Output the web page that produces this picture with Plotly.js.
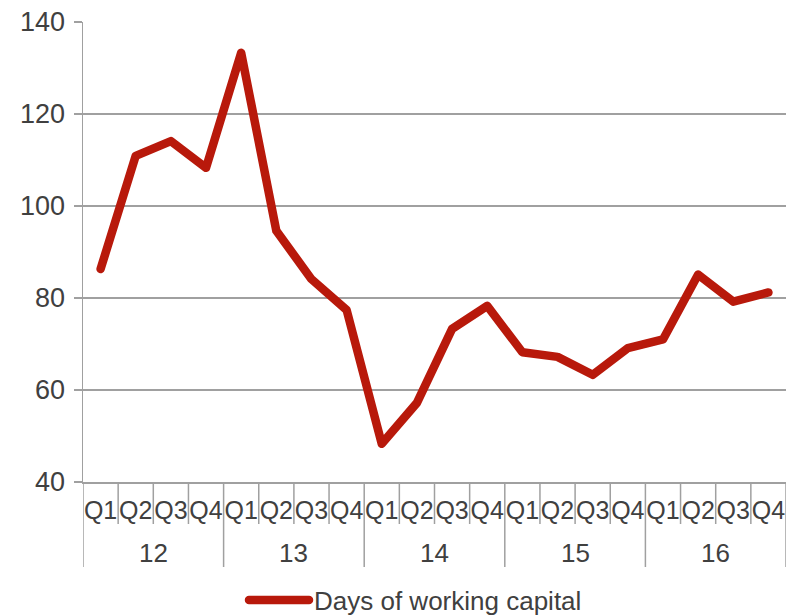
<!DOCTYPE html>
<html>
<head>
<meta charset="utf-8">
<script src="https://cdn.plot.ly/plotly-3.0.1.min.js"></script>
<style>
html,body{margin:0;padding:0;background:#fff;}
#chart{width:788px;height:616px;}
#chart .scatterlayer .js-line, #chart .legendlines path { stroke-linejoin: round !important; stroke-linecap: round !important; }
</style>
</head>
<body>
<div id="chart"></div>
<script>
const years = ["12", "13", "14", "15", "16"];
const quarters = ["Q1", "Q2", "Q3", "Q4"];
const daysOfWorkingCapital = [86.3, 110.9, 114.1, 108.3, 133.3, 94.6, 84.1, 77.4, 48.3, 57.2, 73.3, 78.3, 68.2, 67.2, 63.3, 69.1, 71.0, 85.1, 79.2, 81.2];
const seriesName = "Days of working capital";

const cats = [];
const catText = [];
years.forEach(y => quarters.forEach(q => { cats.push(y + " " + q); catText.push(q); }));

const gridCol = "#a0a0a0";
const textCol = "#404040";
const fontFam = "Liberation Sans, Arial, sans-serif";
const plotH = 616 - 22 - 134;

const shapes = [];
for (let i = 0; i <= cats.length; i++) {
  const isYear = (i % quarters.length === 0);
  shapes.push({
    type: "line", xref: "x", yref: "paper",
    x0: i - 0.5, x1: i - 0.5, y0: 0, y1: isYear ? -85 / plotH : -42 / plotH,
    line: {color: gridCol, width: 1.5}
  });
}
const annotations = years.map((y, g) => ({
  xref: "x", yref: "paper", x: g * quarters.length + (quarters.length - 1) / 2, y: -71 / plotH,
  text: y, showarrow: false, xanchor: "center", yanchor: "middle",
  font: {family: fontFam, size: 26, color: textCol}
}));

const data = [{
  type: "scatter", mode: "lines", x: cats, y: daysOfWorkingCapital, name: seriesName,
  line: {color: "#b8190b", width: 8.5}, cliponaxis: false
}];

const layout = {
  width: 788, height: 616,
  margin: {l: 83, r: 2, t: 22, b: 134, autoexpand: false},
  paper_bgcolor: "#fff", plot_bgcolor: "#fff",
  font: {family: fontFam, size: 26, color: textCol},
  showlegend: true,
  legend: {orientation: "h", xref: "container", yref: "container", x: 244 / 788, xanchor: "left",
           y: 16 / 616, yanchor: "middle",
           font: {family: fontFam, size: 26, color: textCol}, itemwidth: 60},
  xaxis: {
    type: "category", categoryorder: "array", categoryarray: cats,
    tickvals: cats, ticktext: catText, ticks: "", tickangle: 0, range: [-0.5, cats.length - 0.5],
    showgrid: false, zeroline: false, showline: true, linecolor: gridCol, linewidth: 1.5,
    tickfont: {family: fontFam, size: 25, color: textCol}, ticklabelstandoff: 5
  },
  yaxis: {
    range: [40, 140], dtick: 20, tick0: 40, ticks: "outside", ticklen: 8, tickcolor: gridCol, tickwidth: 1.5,
    showgrid: true, gridcolor: gridCol, gridwidth: 1.5, zeroline: false,
    showline: true, linecolor: gridCol, linewidth: 1.5,
    tickfont: {family: fontFam, size: 27, color: textCol}, ticklabelstandoff: 3
  },
  shapes: shapes,
  annotations: annotations
};

Plotly.newPlot("chart", data, layout, {displayModeBar: false, staticPlot: true});
</script>
</body>
</html>
